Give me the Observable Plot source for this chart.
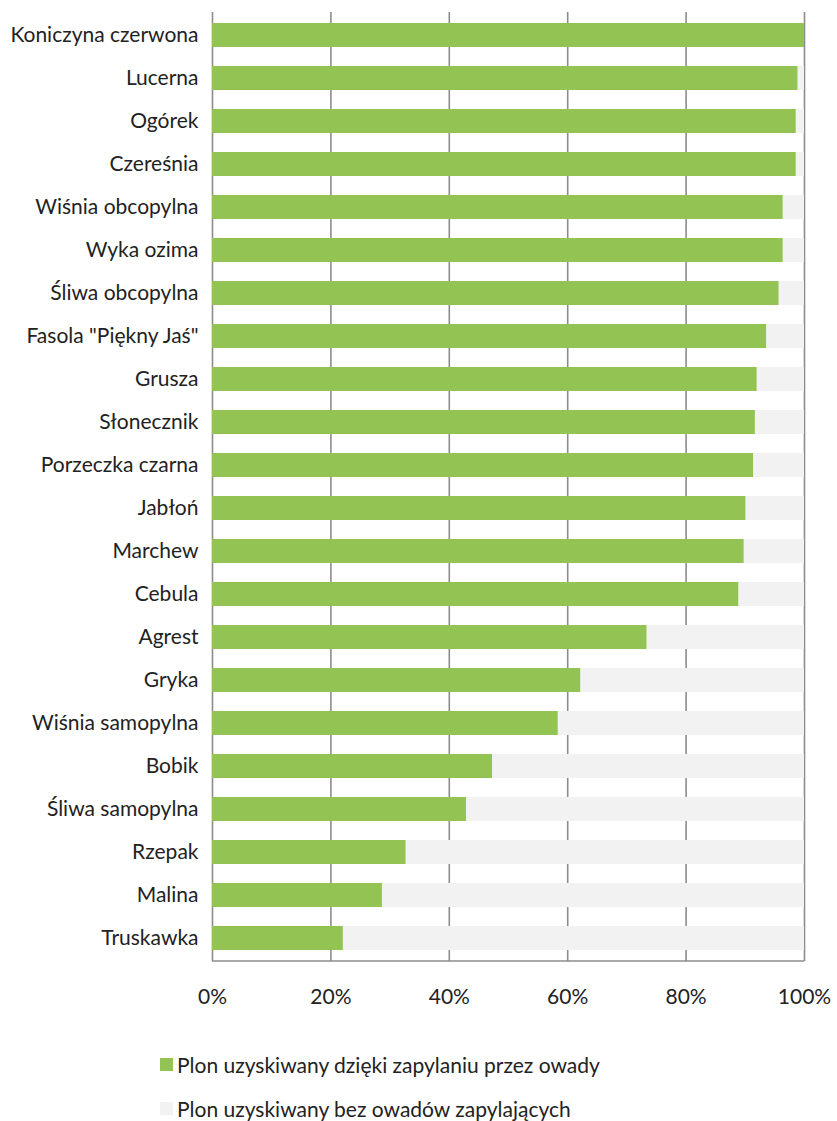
<!DOCTYPE html>
<html>
<head>
<meta charset="utf-8">
<script src="https://cdn.jsdelivr.net/npm/d3@7"></script>
<script src="https://cdn.jsdelivr.net/npm/@observablehq/plot@0.6"></script>
<style>
  body { margin: 0; background: #fff; font-family: Lato, "Open Sans", sans-serif; color: #222; overflow: hidden; }
  #chart { position: relative; width: 837px; }
  .legend { position: relative; width: 837px; height: 91px; font-size: 21px; color: #222; }
  .legend .item { position: absolute; left: 160px; display: flex; align-items: center; line-height: 1; }
  .legend .sw { width: 13px; height: 13px; margin-right: 4px; }
</style>
</head>
<body>
<div id="chart"></div>
<div class="legend" id="legend"></div>
<script>
const crops = ["Koniczyna czerwona","Lucerna","Ogórek","Czereśnia","Wiśnia obcopylna","Wyka ozima","Śliwa obcopylna","Fasola \"Piękny Jaś\"","Grusza","Słonecznik","Porzeczka czarna","Jabłoń","Marchew","Cebula","Agrest","Gryka","Wiśnia samopylna","Bobik","Śliwa samopylna","Rzepak","Malina","Truskawka"];
const withInsects = [100, 98.9, 98.6, 98.6, 96.4, 96.4, 95.7, 93.6, 92.0, 91.7, 91.4, 90.1, 89.8, 88.9, 73.4, 62.2, 58.4, 47.3, 42.9, 32.7, 28.7, 22.1];
const xTicks = [0, 20, 40, 60, 80, 100];
const seriesNames = ["Plon uzyskiwany dzięki zapylaniu przez owady", "Plon uzyskiwany bez owadów zapylających"];
const colors = ["#92c353", "#f2f2f2"];

const data = crops.map((c, i) => ({crop: c, value: withInsects[i]}));

const chart = Plot.plot({
  width: 837,
  height: 1030,
  marginLeft: 212,
  marginRight: 33,
  marginTop: 12,
  marginBottom: 69,
  style: {fontFamily: "Lato, 'Open Sans', sans-serif", fontSize: "21px", color: "#222", background: "#fff"},
  x: {domain: [0, 100], ticks: xTicks, tickFormat: d => d + "%", tickSize: 0, tickPadding: 28, label: null},
  y: {domain: crops, paddingInner: 0.445, paddingOuter: 0.2225, tickSize: 0, tickPadding: 14, label: null},
  marks: [
    Plot.ruleX(xTicks, {stroke: "#8c8c8c", strokeWidth: 1.6}),
    Plot.barX(data, {x1: "value", x2: 100, y: "crop", fill: colors[1]}),
    Plot.barX(data, {x1: 0, x2: "value", y: "crop", fill: colors[0]}),
    (index, scales, values, dims) => {
      const y = dims.height - dims.marginBottom;
      const line = document.createElementNS("http://www.w3.org/2000/svg", "line");
      line.setAttribute("x1", scales.x(0));
      line.setAttribute("x2", scales.x(100));
      line.setAttribute("y1", y);
      line.setAttribute("y2", y);
      line.setAttribute("stroke", "#8c8c8c");
      line.setAttribute("stroke-width", 1.6);
      return line;
    }
  ]
});
document.getElementById("chart").appendChild(chart);

const legend = document.getElementById("legend");
seriesNames.forEach((name, i) => {
  const item = document.createElement("div");
  item.className = "item";
  item.style.top = (i === 0 ? 24 : 68) + "px";
  const sw = document.createElement("span");
  sw.className = "sw";
  sw.style.background = colors[i];
  const t = document.createElement("span");
  t.textContent = name;
  item.appendChild(sw);
  item.appendChild(t);
  legend.appendChild(item);
});
</script>
</body>
</html>
